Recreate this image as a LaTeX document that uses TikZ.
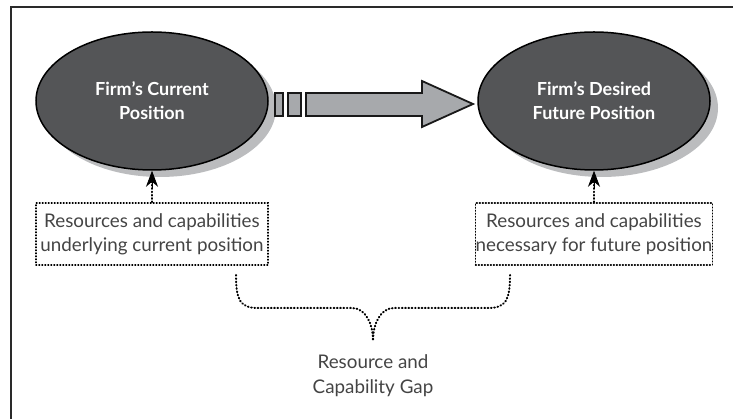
\documentclass[tikz,border=0pt]{standalone}
\usepackage{fontspec}
\setmainfont{Lato}
\usetikzlibrary{shapes.geometric,arrows.meta,shadows}
\definecolor{ellfill}{HTML}{545557}
\definecolor{shad}{HTML}{BBBCBE}
\definecolor{arrfill}{HTML}{A7A9AC}
\definecolor{txt}{HTML}{444444}
\definecolor{frame}{HTML}{2A2A2A}
\begin{document}
\begin{tikzpicture}[x=1pt,y=-1pt,
  posn/.style={ellipse, draw=black, line width=1.5pt, fill=ellfill,
    minimum width=232pt, minimum height=138pt, inner sep=0pt,
    text=white, font=\bfseries\fontsize{18}{24}\selectfont, align=center,
    drop shadow={shadow xshift=8pt, shadow yshift=-7pt, fill=shad, opacity=1, draw=none}},
  resbox/.style={draw=black, line width=1.7pt, dash pattern=on 0.6pt off 2.4pt, line cap=round,
    minimum width=232pt, minimum height=62pt, inner sep=0pt, align=center,
    text=txt, font=\fontsize{18.8}{24}\selectfont},
  dotline/.style={line width=2pt, dash pattern=on 0.7pt off 2.6pt, line cap=round},
  tiphead/.style={line width=0.8pt, -{Stealth[length=16pt,width=12pt,inset=5pt]}},
  blockarrow/.style={draw=black!90, line width=1.8pt, fill=arrfill, line join=miter}
]
\useasboundingbox (0,0) rectangle (733,419);
% frame (cropped at right and bottom)
\draw[frame, line width=2pt] (11,419) -- (11,7) -- (733,7);

% positions
\node[posn] (cur) at (152,101) {Firm’s Current\\Position};
\node[posn] (fut) at (594,101) {Firm’s Desired\\Future Position};

% block arrow between positions
\draw[blockarrow] (275,93) rectangle (283,116);
\draw[blockarrow] (288,93) rectangle (301,116);
\draw[blockarrow] (306,93) -- (422,93) -- (422,81) -- (473,104) -- (422,127) -- (422,116) -- (306,116) -- cycle;

% resource boxes
\node[resbox] (box1) at (152,234) {Resources and capabilities\\underlying current position};
\node[resbox] (box2) at (594,234) {Resources and capabilities\\necessary for future position};

\draw[dotline] (box1.north) -- ([yshift=-10pt]cur.south);
\draw[tiphead] ([yshift=-17pt]cur.south) -- (cur.south);
\draw[dotline] (box2.north) -- ([yshift=-10pt]fut.south);
\draw[tiphead] ([yshift=-17pt]fut.south) -- (fut.south);

% brace
\coordinate (bl) at (236,275);
\coordinate (br) at (510,275);
\coordinate (tip) at (373,340);
\draw[dotline] (bl) .. controls (236,300) and (240,308) .. (258,308) -- (352,308)
  .. controls (366,308) and (373,325) .. (tip);
\draw[dotline] (br) .. controls (510,300) and (506,308) .. (488,308) -- (394,308)
  .. controls (380,308) and (373,325) .. (tip);

\node[text=txt, font=\fontsize{18.8}{25}\selectfont, align=center] (gap) at (373,376) {Resource and\\Capability Gap};
\end{tikzpicture}
\end{document}
